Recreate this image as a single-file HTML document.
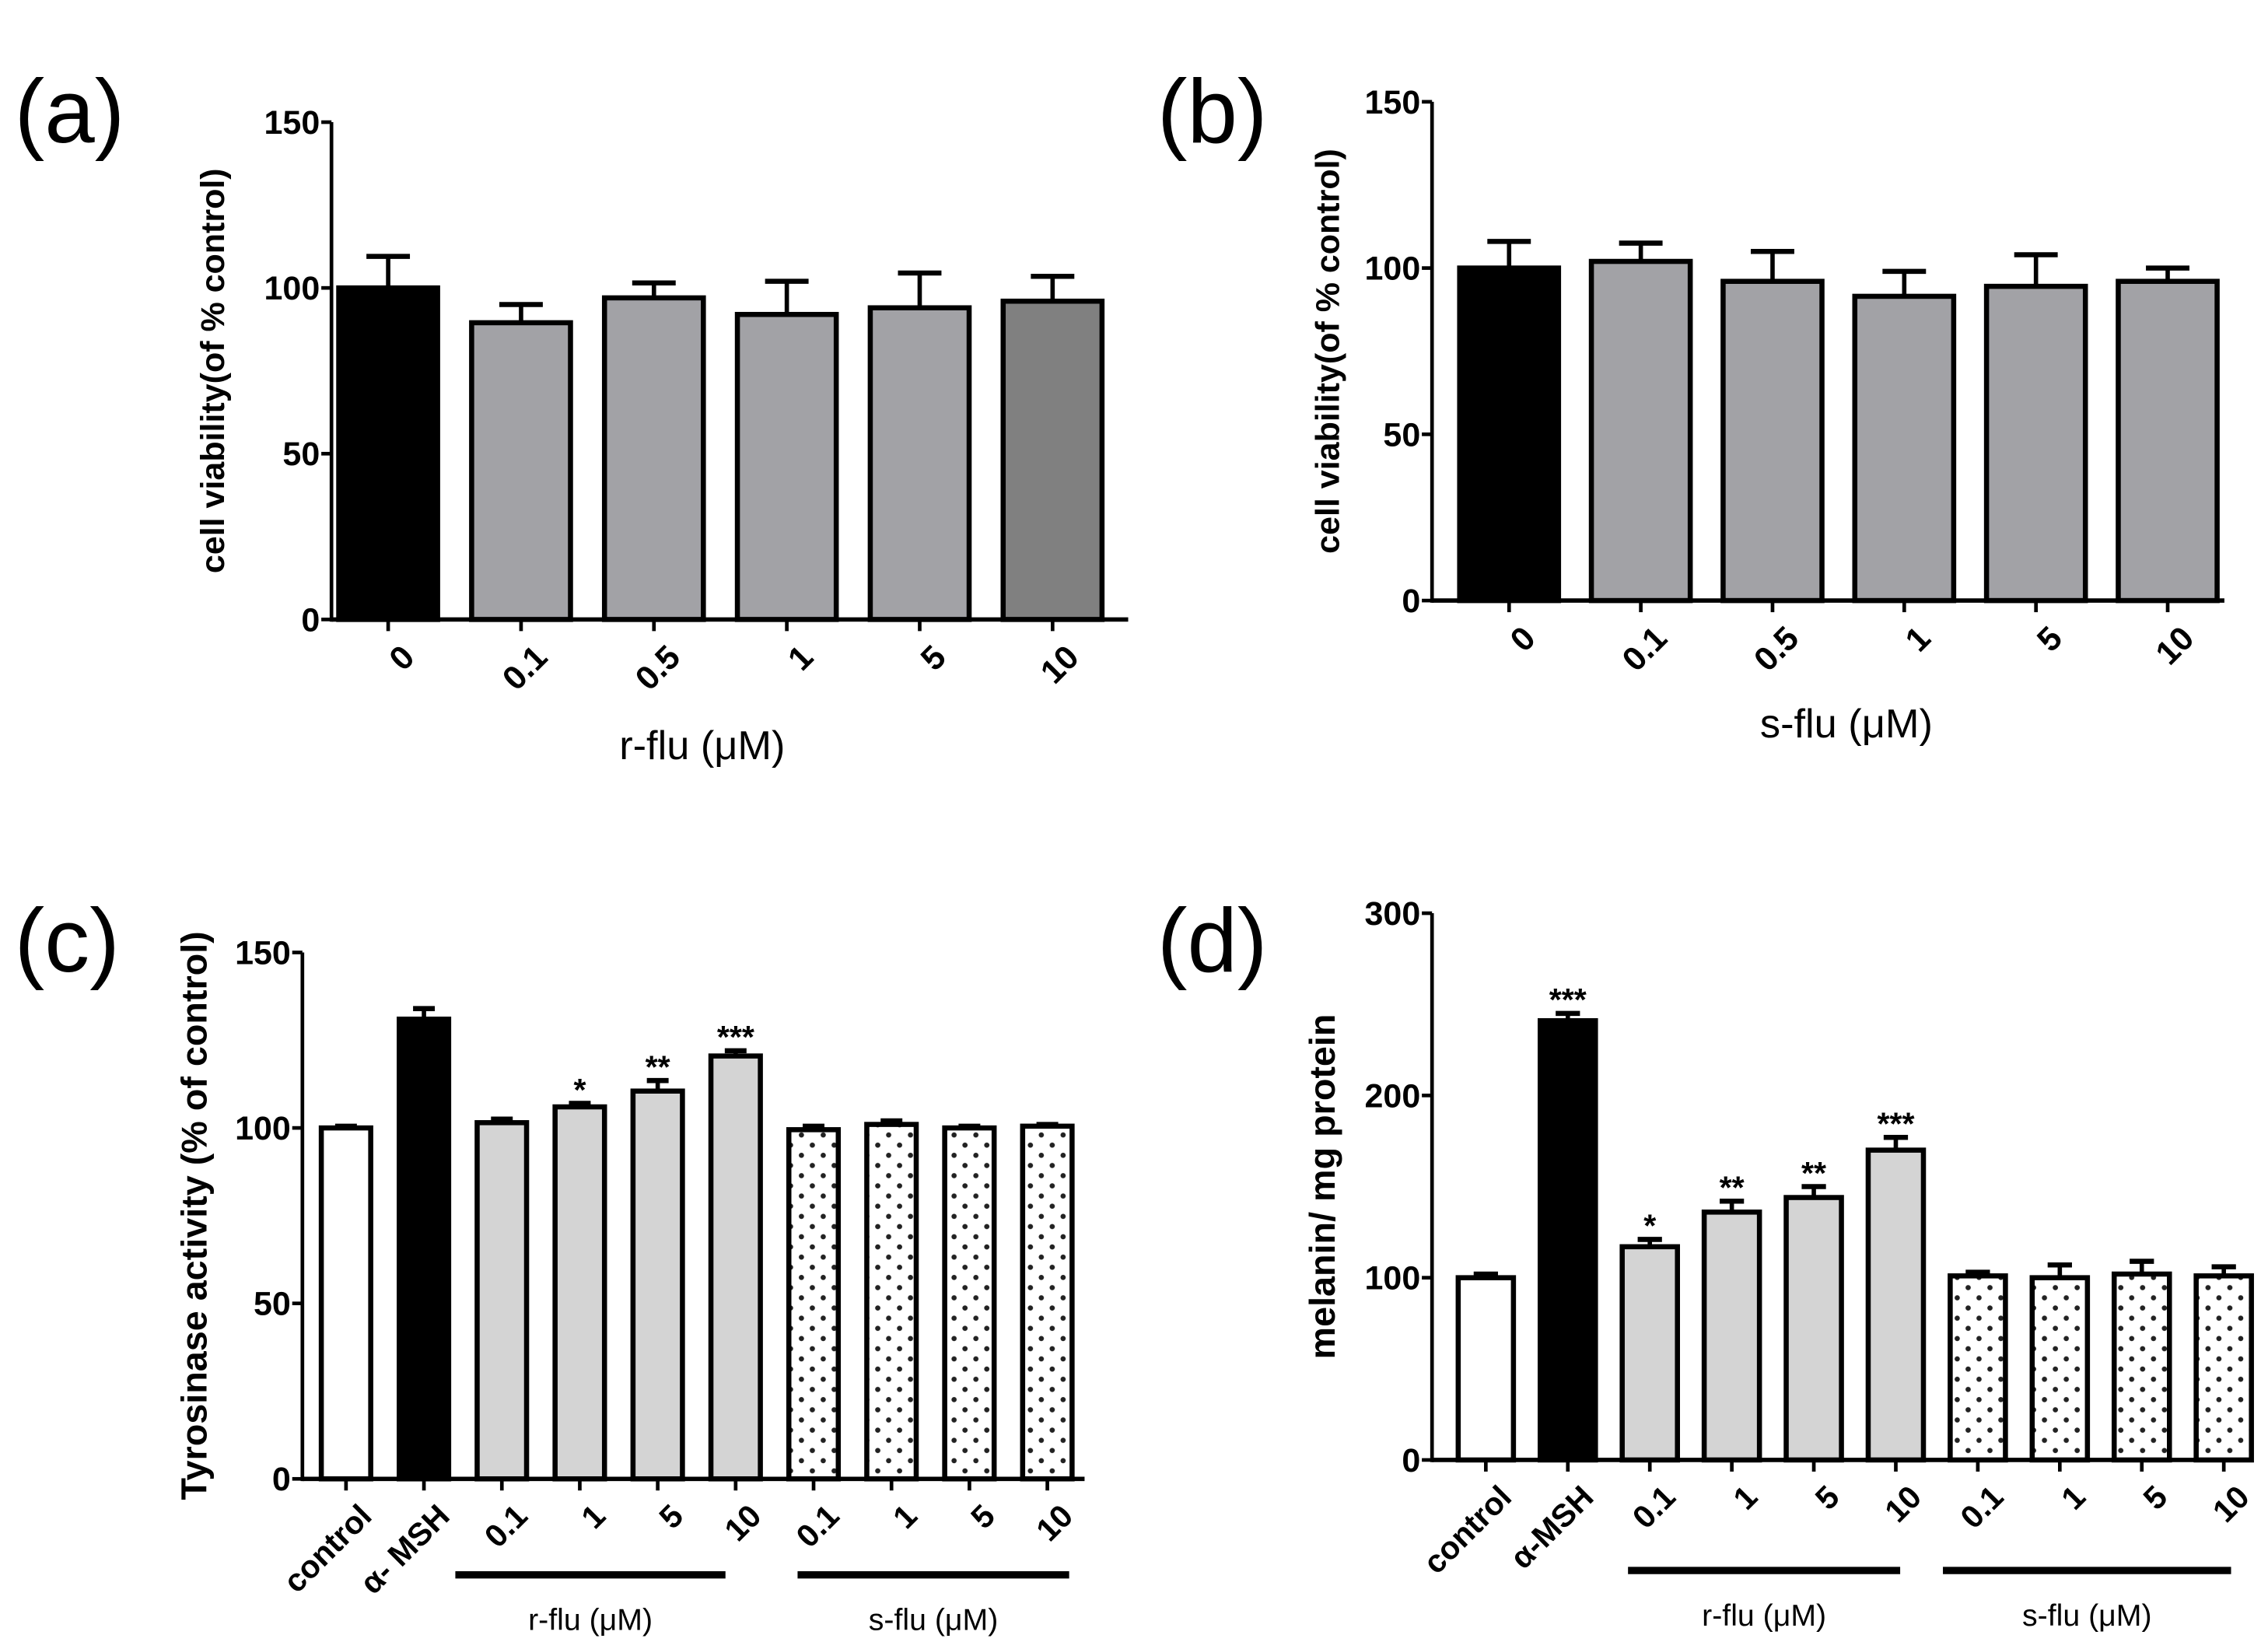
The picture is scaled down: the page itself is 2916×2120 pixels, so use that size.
<!DOCTYPE html>
<html><head><meta charset="utf-8"><style>
html,body{margin:0;padding:0;background:#fff}
svg{display:block}
text{font-family:"Liberation Sans",Arial,sans-serif}
</style></head><body>
<svg id="fig" width="2916" height="2120" viewBox="0 0 1560 1134" preserveAspectRatio="none" xmlns="http://www.w3.org/2000/svg">
<defs>
<pattern id="dots" patternUnits="userSpaceOnUse" width="15" height="14">
<circle cx="3.75" cy="3.5" r="1.8" fill="#222"/>
<circle cx="11.25" cy="10.5" r="1.8" fill="#222"/>
</pattern>
</defs>
</svg>
<script>
// Panel (a)
const catsA = ["0","0.1","0.5","1","5","10"];
const valsA = [100, 89.5, 97, 92, 94, 96];
const errsA = [9.5, 5.5, 4.5, 10, 10.5, 7.5];
const fillsA = ["#000","#a2a2a6","#a2a2a6","#a2a2a6","#a2a2a6","#808080"];
// Panel (b)
const catsB = ["0","0.1","0.5","1","5","10"];
const valsB = [100, 102, 96, 91.5, 94.5, 96];
const errsB = [8, 5.5, 9, 7.5, 9.5, 4];
const fillsB = ["#000","#a2a2a6","#a2a2a6","#a2a2a6","#a2a2a6","#a2a2a6"];
// Panel (c)
const catsC = ["control","α- MSH","0.1","1","5","10","0.1","1","5","10"];
const valsC = [100, 131, 101.5, 106, 110.5, 120.5, 99.5, 101, 100, 100.5];
const errsC = [0.5, 3, 1, 1, 3, 1.5, 1, 1, 0.5, 0.5];
const starsC = ["","","","*","**","***","","","",""];
// Panel (d)
const catsD = ["control","α-MSH","0.1","1","5","10","0.1","1","5","10"];
const valsD = [100, 241, 117, 136, 144, 170, 101, 100, 102, 101];
const errsD = [2, 4, 4, 6, 6, 7, 2, 7, 7, 5];
const starsD = ["","***","*","**","**","***","","","",""];
const ticks150 = [0, 50, 100, 150];
const ticks300 = [0, 100, 200, 300];

const svg = document.getElementById('fig');
const NS = "http://www.w3.org/2000/svg";
function el(tag, attrs, parent, txt){
  const e = document.createElementNS(NS, tag);
  for (const k in attrs) e.setAttribute(k, attrs[k]);
  if (txt !== undefined) e.textContent = txt;
  (parent||svg).appendChild(e);
  return e;
}

function chart(o){
  const g = el('g', {});
  
  
  const y = v => o.y0 - (v / o.max) * (o.y0 - o.ytop);
  const x = i => o.x0 + o.pad + i * o.step;
  const ya = el('line', {x1:o.x0, y1:o.ytop, x2:o.x0, y2:o.y0+1.5, stroke:'#000','stroke-width':2.5}, g);
  
  
  const xa = el('line', {x1:o.x0, y1:o.y0, x2:o.xend, y2:o.y0, stroke:'#000','stroke-width':3}, g);
  
  
  o.ticks.forEach(t => {
    el('line', {x1:o.x0-7, y1:y(t), x2:o.x0, y2:y(t), stroke:'#000','stroke-width':2.5}, g);
    const tl = el('text', {x:o.x0-8, y:y(t)+8, 'text-anchor':'end','font-size':23,'font-weight':'bold'}, g, String(t));
    
    
  });
  o.vals.forEach((v, i) => {
    const cx = x(i), w = o.bw;
    const top = y(v), et = y(v + o.errs[i]);
    el('line', {x1:cx, y1:top, x2:cx, y2:et, stroke:'#000','stroke-width':3}, g);
    el('line', {x1:cx-w*0.22, y1:et, x2:cx+w*0.22, y2:et, stroke:'#000','stroke-width':3.5}, g);
    const r = el('rect', {x:cx-w/2, y:top, width:w, height:o.y0-top, fill:o.fills[i], stroke:'#000','stroke-width':3.5}, g);
    
    
    el('line', {x1:cx, y1:o.y0, x2:cx, y2:o.y0+8, stroke:'#000','stroke-width':2.5}, g);
    const lx = cx + 8, ly = o.y0 + 16;
    const tl = el('text', {x:lx, y:ly, 'text-anchor':'end','font-size':o.fs,'font-weight':'bold', transform:`rotate(-45 ${lx} ${ly})`, dy:'0.7em'}, g, o.cats[i]);
    
    
    if (o.stars && o.stars[i]) {
      const s = el('text', {x:cx, y:et-2, 'text-anchor':'middle','font-size':22,'font-weight':'bold'}, g, o.stars[i]);
      
      
    }
  });
  const ty = el('text', {x:o.tx, y:(o.y0+o.ytop)/2, 'text-anchor':'middle','font-size':o.tfs,'font-weight':'bold', transform:`rotate(-90 ${o.tx} ${(o.y0+o.ytop)/2})`}, g, o.ytitle);
  
  
  const pl = el('text', {x:o.lx, y:o.ly, 'font-size':62}, g, o.letter);
  
  
  return {x, y, g};
}

const a = chart({name:'panel-a-chart', x0:228, xend:776, y0:426, ytop:84, max:150, ticks:ticks150, pad:39, step:91.4, bw:68,
  vals:valsA, errs:errsA, cats:catsA, fills:fillsA, fs:23, tx:154, tfs:23, ytitle:'cell viability(of % control)', letter:'(a)', lx:10, ly:98});
let t = el('text', {x:483, y:522, 'text-anchor':'middle','font-size':28}, a.g, 'r-flu (μM)');



const b = chart({name:'panel-b-chart', x0:985, xend:1530, y0:413, ytop:70, max:150, ticks:ticks150, pad:53, step:90.6, bw:68,
  vals:valsB, errs:errsB, cats:catsB, fills:fillsB, fs:23, tx:921, tfs:23, ytitle:'cell viability(of % control)', letter:'(b)', lx:796, ly:98});
t = el('text', {x:1270, y:507, 'text-anchor':'middle','font-size':28}, b.g, 's-flu (μM)');



const fillsCD = ["#fff","#000","#d4d4d4","#d4d4d4","#d4d4d4","#d4d4d4","url(#dots)","url(#dots)","url(#dots)","url(#dots)"];
const c = chart({name:'panel-c-chart', x0:208, xend:746, y0:1017, ytop:655, max:150, ticks:ticks150, pad:30, step:53.6, bw:34,
  vals:valsC, errs:errsC, cats:catsC, fills:fillsCD, stars:starsC, fs:22, tx:142, tfs:25, ytitle:'Tyrosinase activity (% of control)', letter:'(c)', lx:10, ly:668});
const d = chart({name:'panel-d-chart', x0:985, xend:1542, y0:1004, ytop:628, max:300, ticks:ticks300, pad:37, step:56.4, bw:38,
  vals:valsD, errs:errsD, cats:catsD, fills:fillsCD, stars:starsD, fs:22, tx:918, tfs:25, ytitle:'melanin/ mg protein', letter:'(d)', lx:796, ly:668});

function groupBar(p, i0, i1, o0, o1, yy, label, name){
  const x1 = p.x(i0)+o0, x2 = p.x(i1)+o1;
  const l = el('line', {x1:x1, y1:yy, x2:x2, y2:yy, stroke:'#000','stroke-width':5}, p.g);
  
  
  const tx = el('text', {x:(x1+x2)/2, y:yy+38, 'text-anchor':'middle','font-size':21}, p.g, label);
  
  
}
groupBar(c, 2, 5, -32, -7, 1083, 'r-flu (μM)', 'r-flu-group');
groupBar(c, 6, 9, -11, 15, 1083, 's-flu (μM)', 's-flu-group');
groupBar(d, 2, 5, -15, 3, 1080, 'r-flu (μM)', 'r-flu-group');
groupBar(d, 6, 9, -24, 5, 1080, 's-flu (μM)', 's-flu-group');
</script>
</body></html>
